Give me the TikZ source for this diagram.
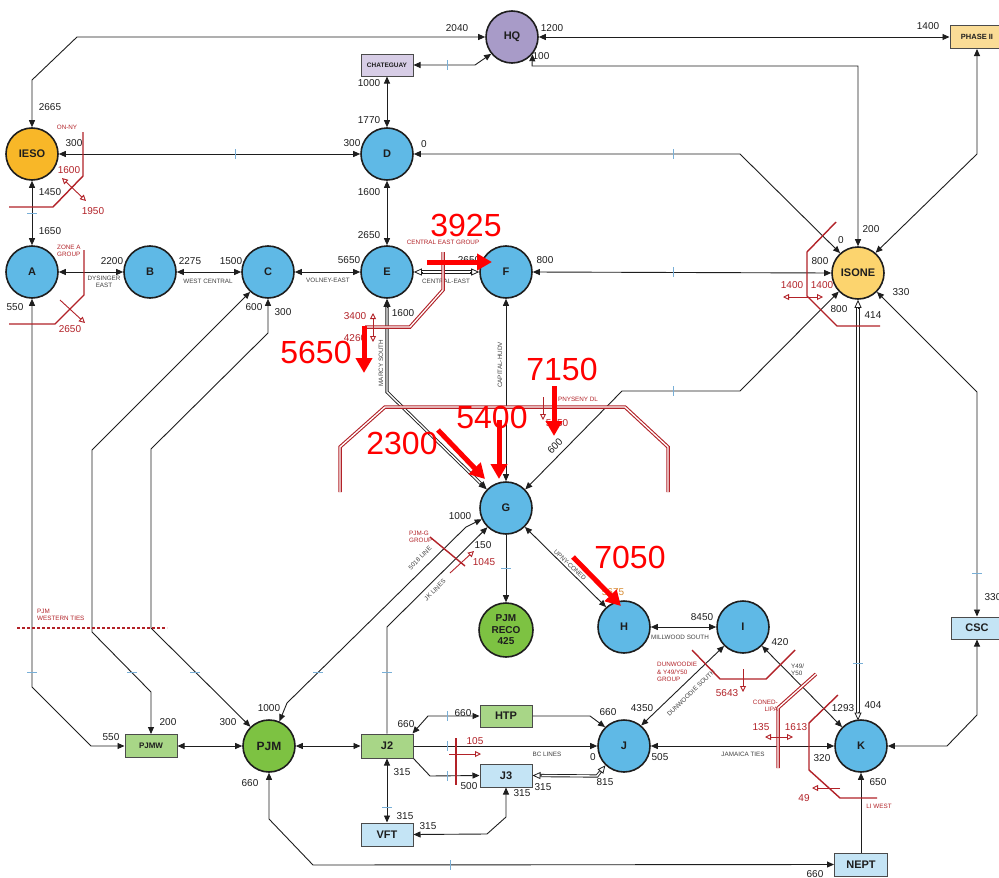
\documentclass[tikz,border=0pt]{standalone}
\usepackage{fontspec}
\setmainfont{Liberation Sans}
\usetikzlibrary{arrows.meta,calc}
\definecolor{ink}{RGB}{30,30,30}
\definecolor{nblue}{RGB}{95,185,230}
\definecolor{iesoc}{RGB}{248,183,40}
\definecolor{isonec}{RGB}{252,212,110}
\definecolor{hqc}{RGB}{168,155,200}
\definecolor{chatc}{RGB}{215,205,230}
\definecolor{phasec}{RGB}{250,220,150}
\definecolor{pjmc}{RGB}{125,194,66}
\definecolor{lgreen}{RGB}{168,214,135}
\definecolor{lblue}{RGB}{196,228,245}
\definecolor{dred}{RGB}{178,34,40}
\definecolor{bred}{RGB}{255,0,0}
\definecolor{tickb}{RGB}{120,175,215}
\definecolor{orng}{RGB}{215,140,50}
\begin{document}
\begin{tikzpicture}[x=1pt,y=-1pt,
  circ/.style={circle, draw=ink, line width=1.6pt, minimum size=52pt, inner sep=0pt, text=ink, font=\bfseries\fontsize{11}{12}\selectfont},
  bcirc/.style={circ, fill=nblue},
  boxn/.style={rectangle, draw=ink!80, line width=1pt, minimum width=52pt, minimum height=22pt, inner sep=0pt, text=ink, font=\bfseries\fontsize{11}{12}\selectfont},
  conn/.style={draw=ink, line width=0.9pt},
  ta/.style={conn, -{Triangle[length=7pt,width=6pt]}},
  tb/.style={conn, {Triangle[length=7pt,width=6pt]}-{Triangle[length=7pt,width=6pt]}},
  dblback/.style={draw=ink, line width=3.2pt, shorten <=7pt, shorten >=7pt},
  dblfront/.style={draw=white, line width=1.4pt, shorten <=7pt, shorten >=7pt},
  opentip/.style={draw=ink, line width=0.8pt, -{Triangle[fill=white,length=8pt,width=7pt]}},
  solidtip/.style={draw=ink, line width=0.8pt, -{Triangle[length=8pt,width=7pt]}},
  num/.style={inner sep=0pt, text=ink, font=\fontsize{10}{11}\selectfont},
  sm/.style={inner sep=0pt, text=ink!85, font=\fontsize{6.3}{7}\selectfont, align=center},
  rnum/.style={inner sep=0pt, text=dred, font=\fontsize{10}{11}\selectfont},
  rsm/.style={inner sep=0pt, text=dred, font=\fontsize{6.3}{7.5}\selectfont},
  redb/.style={draw=dred, line width=1.4pt},
  reddbl/.style={draw=dred, double=white, double distance=1.3pt, line width=1.1pt},
  redsa/.style={draw=dred, line width=0.9pt, -{Triangle[fill=white,length=6pt,width=6pt]}},
  redsb/.style={draw=dred, line width=0.9pt, {Triangle[fill=white,length=6pt,width=6pt]}-{Triangle[fill=white,length=6pt,width=6pt]}},
  bluetick/.style={draw=tickb, line width=0.9pt},
  bigarrow/.style={draw=bred, line width=5pt, -{Triangle[length=15pt,width=16pt]}},
  bigtxt/.style={inner sep=0pt, text=bred, font=\fontsize{32}{34}\selectfont}
]
\fill[white] (0,0) rectangle (999,878);
\useasboundingbox (0,0) rectangle (999,878);

% ---------- nodes ----------
\node[circ, fill=hqc] (HQ) at (512,37) {HQ};
\node[boxn, fill=chatc, font=\bfseries\fontsize{6.5}{7}\selectfont] (CHAT) at (387,65) {CHATEGUAY};
\node[boxn, fill=phasec, minimum width=54pt, minimum height=23pt, font=\bfseries\fontsize{7.5}{8}\selectfont] (PH) at (977,37) {PHASE II};
\node[circ, fill=iesoc] (IESO) at (32,154) {IESO};
\node[bcirc] (D) at (387,154) {D};
\node[bcirc] (A) at (32,272) {A};
\node[bcirc] (B) at (150,272) {B};
\node[bcirc] (C) at (268,272) {C};
\node[bcirc] (E) at (387,272) {E};
\node[bcirc] (F) at (506,272) {F};
\node[circ, fill=isonec] (ISONE) at (858,273) {ISONE};
\node[bcirc] (G) at (506,508) {G};
\node[circ, fill=pjmc, minimum size=54pt, align=center, font=\bfseries\fontsize{10}{11.5}\selectfont] (RECO) at (506,630) {PJM\\RECO\\425};
\node[bcirc] (H) at (624,627) {H};
\node[bcirc] (I) at (743,627) {I};
\node[bcirc] (J) at (624,746) {J};
\node[bcirc] (K) at (861,746) {K};
\node[circ, fill=pjmc, font=\bfseries\fontsize{12}{13}\selectfont] (PJM) at (269,746) {PJM};
\node[boxn, fill=lgreen, font=\bfseries\fontsize{8}{9}\selectfont, minimum height=23pt] (PJMW) at (151,746) {PJMW};
\node[boxn, fill=lgreen, minimum height=24pt] (J2) at (387,746) {J2};
\node[boxn, fill=lgreen] (HTP) at (506,716) {HTP};
\node[boxn, fill=lblue, minimum height=23pt] (J3) at (506,775.5) {J3};
\node[boxn, fill=lblue, minimum height=23pt] (VFT) at (387,834.5) {VFT};
\node[boxn, fill=lblue, minimum width=53pt, minimum height=23pt] (NEPT) at (861,864.5) {NEPT};
\node[boxn, fill=lblue, minimum height=22pt] (CSC) at (977,628) {CSC};
\coordinate (KTOP) at (858,720.5);

% ---------- connectors ----------
\draw[tb] (HQ.west) -- (77,37) -- (32,80) -- (IESO.north);
\draw[tb] (HQ.east) -- (PH.west);
\draw[tb] (CHAT.east) -- (475,65) -- (HQ.219);
\draw[tb] (HQ.-40) -- (532,66) -- (858,66) -- (ISONE.north);
\draw[tb] (CHAT.south) -- (D.north);
\draw[tb] (D.west) -- (IESO.east);
\draw[tb] (D.east) -- (740,154) -- (ISONE.132);
\draw[tb] (D.south) -- (E.north);
\draw[tb] (IESO.south) -- (A.north);
\draw[tb] (A.east) -- (B.west);
\draw[tb] (B.east) -- (C.west);
\draw[tb] (C.east) -- (E.west);
\draw[tb] (F.east) -- (ISONE.west);
\draw[tb] (PH.south) -- (977,154) -- (ISONE.49);
\draw[tb] (ISONE.224) -- (740,391) -- (622,391) -- (G.44);
\draw[tb] (ISONE.-45) -- (977,392) -- (CSC.north);
\draw[tb] (CSC.south) -- (977,715) -- (947,746) -- (K.east);
\draw[tb] (A.south) -- (32,687) -- (91,746) -- (PJMW.west);
\draw[tb] (C.228) -- (92,450) -- (92,632) -- (151,692) -- (PJMW.north);
\draw[tb] (C.south) -- (268,333) -- (151,449) -- (151,628) -- (PJM.134);
\draw[tb] (PJM.67) -- (287,703) -- (466,527) -- (G.205);
\draw[ta] (J2.north) -- (387,627) -- (G.226);
\draw[tb] (PJMW.east) -- (PJM.west);
\draw[tb] (PJM.east) -- (J2.west);
\draw[tb] (PJM.south) -- (269,819) -- (313,865) -- (NEPT.west);
\draw[ta] (NEPT.north) -- (K.south);
\draw[tb] (F.south) -- (G.north);
\draw[ta] (G.south) -- (RECO.north);
\draw[tb] (G.-45) -- (H.132);
\draw[tb] (H.east) -- (I.west);
\draw[tb] (I.225) -- (J.50);
\draw[tb] (I.-45) -- (K.135);
\draw[tb] (J.east) -- (K.west);
\draw[tb] (HTP.west) -- (428,716) -- ([xshift=-1pt]J2.north east);
\draw[ta] (HTP.east) -- (590,716) -- (J.135);
\draw[ta] (J2.east) -- (J.west);
\draw[ta] (J2.south east) -- (430,776) -- (J3.west);
\draw[tb] (J2.south) -- (VFT.north);
\draw[tb] (VFT.east) -- (487,834) -- (506,817) -- (J3.south);

% double connectors
\draw[dblback] (E.east) -- (F.west);
\draw[dblfront] (E.east) -- (F.west);
\draw[opentip] ($(E.east)!9pt!(F.west)$) -- (E.east);
\draw[opentip] ($(F.west)!9pt!(E.east)$) -- (F.west);

\draw[dblback] (ISONE.south) -- (KTOP);
\draw[dblfront] (ISONE.south) -- (KTOP);
\draw[opentip] ($(ISONE.south)!9pt!(KTOP)$) -- (ISONE.south);
\draw[opentip] ($(KTOP)!9pt!(ISONE.south)$) -- (KTOP);

\draw[dblback] (E.south) -- (387,392) -- (G.136);
\draw[dblfront] (E.south) -- (387,392) -- (G.136);
\draw[solidtip] ($(E.south)!9pt!(387,392)$) -- (E.south);
\draw[solidtip] ($(G.136)!9pt!(387,392)$) -- (G.136);

\draw[dblback] (J3.east) -- (597,776) -- (J.226);
\draw[dblfront] (J3.east) -- (597,776) -- (J.226);
\draw[opentip] ($(J3.east)!9pt!(597,776)$) -- (J3.east);
\draw[opentip] ($(J.226)!9pt!(597,776)$) -- (J.226);

% ---------- blue ticks ----------
\foreach \x/\y in {235/154,673/154,673/272,673/391,447/65,447/716,447/746,447/776,450/865}
  \draw[bluetick] (\x,\y-5) -- (\x,\y+5);
\foreach \x/\y in {32/213,858/663,977/573,32/672,132/672,195/672,318/672,387/672,387/807,506/568}
  \draw[bluetick] (\x-5,\y) -- (\x+5,\y);

% ---------- black labels ----------
\node[num] at (50,107) {2665};
\node[num] at (457,28) {2040};
\node[num] at (552,28) {1200};
\node[num] at (541,56) {100};
\node[num] at (928,26) {1400};
\node[num] at (369,83) {1000};
\node[num] at (369,120) {1770};
\node[num] at (74,143) {300};
\node[num] at (352,143) {300};
\node[num] at (424,144) {0};
\node[num] at (369,192) {1600};
\node[num] at (369,235) {2650};
\node[num] at (50,192) {1450};
\node[num] at (50,231) {1650};
\node[num] at (112,261) {2200};
\node[num] at (190,261) {2275};
\node[num] at (231,261) {1500};
\node[num] at (349,260) {5650};
\node[num] at (469,260) {2650};
\node[num] at (545,260) {800};
\node[num] at (841,240) {0};
\node[num] at (871,229) {200};
\node[num] at (820,261) {800};
\node[num] at (901,292) {330};
\node[num] at (839,309) {800};
\node[num] at (873,315) {414};
\node[num] at (15,307) {550};
\node[num] at (254,307) {600};
\node[num] at (283,312) {300};
\node[num] at (403,313) {1600};
\node[num, rotate=45] at (555,446) {600};
\node[num] at (460,516) {1000};
\node[num] at (483,545) {150};
\node[num] at (702,617) {8450};
\node[num] at (780,642) {420};
\node[num] at (642,708) {4350};
\node[num] at (843,708) {1293};
\node[num] at (873,705) {404};
\node[num] at (111,737) {550};
\node[num] at (168,722) {200};
\node[num] at (228,722) {300};
\node[num] at (269,708) {1000};
\node[num] at (250,783) {660};
\node[num] at (406,724) {660};
\node[num] at (463,713) {660};
\node[num] at (608,712) {660};
\node[num] at (593,757) {0};
\node[num] at (660,757) {505};
\node[num] at (822,758) {320};
\node[num] at (469,786) {500};
\node[num] at (543,787) {315};
\node[num] at (605,782) {815};
\node[num] at (402,772) {315};
\node[num] at (405,816) {315};
\node[num] at (428,826) {315};
\node[num] at (522,793) {315};
\node[num] at (878,782) {650};
\node[num] at (815,874) {660};
\node[num] at (993,597) {330};

\node[sm] at (104,282) {DYSINGER\\EAST};
\node[sm] at (208,281) {WEST CENTRAL};
\node[sm] at (328,280) {VOLNEY-EAST};
\node[sm] at (446,281) {CENTRAL-EAST};
\node[sm, rotate=90] at (381,363) {MARCY SOUTH};
\node[sm, rotate=90] at (500,365) {CAPITAL-HUDV};
\node[sm, rotate=-44] at (570,565) {UPNY-CONED};
\node[sm, rotate=44] at (691,693) {DUNWOODIE SOUTH};
\node[sm] at (680,637) {MILLWOOD SOUTH};
\node[sm] at (547,754) {BC LINES};
\node[sm] at (743,754) {JAMAICA TIES};
\node[sm, align=left, anchor=west] at (791,670) {Y49/\\Y50};
\node[sm, rotate=45] at (420,558) {5018 LINE};
\node[sm, rotate=45] at (435,590) {JK LINES};

% ---------- red interfaces ----------
\draw[redb] (83,132) -- (83,176) -- (53,207) -- (9,207);
\draw[redsb] (62,178) -- (86,201);
\draw[redb] (84,250) -- (84,295) -- (55,324) -- (9,324);
\draw[redsa] (60,300) -- (85,323);
\draw[reddbl] (443,252) -- (443,290) -- (410,327) -- (365,327);
\draw[redsb] (373,313) -- (373,342);
\draw[reddbl] (340,492) -- (340,447) -- (385,407) -- (625,407) -- (668,447) -- (668,492);
\draw[redsa] (543,397) -- (543,420);
\draw[redb] (430,537) -- (465,566);
\draw[redsa] (450,573) -- (474,551);
\draw[redb] (836,222) -- (807,252) -- (807,296) -- (837,326) -- (880,326);
\draw[redsb] (783,297) -- (823,297);
\draw[redb] (456,738) -- (456,785);
\draw[redsa] (449,754) -- (481,754);
\draw[redb] (692,650) -- (720,679) -- (766,679) -- (795,650);
\draw[redsa] (743,669) -- (743,692);
\draw[reddbl] (816,674) -- (778,708) -- (778,768);
\draw[redsb] (765,737) -- (793,737);
\draw[redb] (838,695) -- (809,723) -- (809,770) -- (840,798) -- (877,798);
\draw[redsa] (840,788) -- (812,788);
\draw[dred, line width=1.4pt, dash pattern=on 3pt off 2pt] (17,628) -- (167,628);

\node[rsm] at (67,127) {ON-NY};
\node[rnum] at (69,170) {1600};
\node[rnum] at (93,211) {1950};
\node[rsm, align=left, anchor=west] at (57,251) {ZONE A\\GROUP};
\node[rnum] at (70,329) {2650};
\node[rsm] at (443,242) {CENTRAL EAST GROUP};
\node[rnum] at (355,316) {3400};
\node[rnum] at (355,338) {4260};
\node[rsm, align=left, anchor=west] at (409,537) {PJM-G\\GROUP};
\node[rnum] at (484,562) {1045};
\node[rsm] at (578,399) {PNYSENY DL};
\node[rnum] at (557,423) {5150};
\node[rsm, align=left, anchor=west] at (657,672) {DUNWOODIE\\\& Y49/Y50\\GROUP};
\node[rnum] at (727,693) {5643};
\node[rsm, align=right, anchor=east] at (778,706) {CONED-\\LIPA};
\node[rnum] at (761,727) {135};
\node[rnum] at (796,727) {1613};
\node[rnum] at (804,798) {49};
\node[rsm] at (879,806) {LI WEST};
\node[rnum] at (792,285) {1400};
\node[rnum] at (822,285) {1400};
\node[rnum] at (475,741) {105};
\node[rsm, align=left, anchor=west] at (37,615) {PJM\\WESTERN TIES};
\node[inner sep=0pt, text=orng, font=\fontsize{10}{11}\selectfont] at (613,592) {5675};

% ---------- big red annotations ----------
\draw[bigarrow] (427,262) -- (492,262);
\draw[bigarrow] (364,326) -- (364,373);
\draw[bigarrow] (554,386) -- (554,436);
\draw[bigarrow] (499,420) -- (499,479);
\draw[bigarrow] (438,430) -- (485,479);
\draw[bigarrow] (573,557) -- (621,606);
\node[bigtxt] at (466,225) {3925};
\node[bigtxt] at (316,352) {5650};
\node[bigtxt] at (562,369) {7150};
\node[bigtxt] at (492,417) {5400};
\node[bigtxt] at (402,443) {2300};
\node[bigtxt] at (630,557) {7050};
\end{tikzpicture}
\end{document}
